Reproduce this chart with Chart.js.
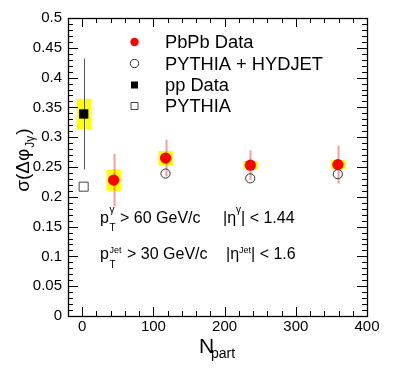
<!DOCTYPE html>
<html>
<head>
<script src="https://cdn.jsdelivr.net/npm/chart.js@4.4.0/dist/chart.umd.min.js"></script>
<style>
  body { margin: 0; background: #fff; }
  #wrap { width: 399px; height: 371px; }
</style>
</head>
<body>
<div id="wrap"><canvas id="myChart" width="399" height="371"></canvas></div>
<script>
// PbPb centrality bins
const npart = [44, 117, 236, 359];
const pbpbData = [0.228, 0.265, 0.253, 0.254];
const pbpbStat = [0.044, 0.031, 0.025, 0.032];
const pbpbSys = [0.018, 0.012, 0.007, 0.0075];
const pythiaHydjet = [0.228, 0.239, 0.231, 0.238];
// pp reference
const ppNpart = [2];
const ppData = [0.339];
const ppStat = [0.093];
const ppSys = [0.0255];
const pythiaPP = [0.217];
// axis labels
const xTicks = [0, 100, 200, 300, 400];
const yTicks = [0, 0.05, 0.1, 0.15, 0.2, 0.25, 0.3, 0.35, 0.4, 0.45, 0.5];
const legendLabels = ['PbPb Data', 'PYTHIA + HYDJET', 'pp Data', 'PYTHIA'];

const FONT = '"Liberation Sans", Arial, Helvetica, sans-serif';
const sysHalf = 10; // half width of the yellow boxes, in Npart

function pts(xs, ys) { return xs.map((x, i) => ({x: x, y: ys[i]})); }

// yellow systematics boxes + stat error lines
const errorBars = {
  id: 'errorBars',
  beforeDatasetsDraw(chart) {
    const {ctx, scales: {x, y}} = chart;
    ctx.save();
    ctx.fillStyle = '#ffff00';
    const box = (xv, yv, s) => {
      const l = x.getPixelForValue(xv - sysHalf), r = x.getPixelForValue(xv + sysHalf);
      const t = y.getPixelForValue(yv + s), b = y.getPixelForValue(yv - s);
      ctx.fillRect(l, t, r - l, b - t);
    };
    npart.forEach((n, i) => box(n, pbpbData[i], pbpbSys[i]));
    ppNpart.forEach((n, i) => box(n, ppData[i], ppSys[i]));

    const line = (xv, yv, e) => {
      const px = Math.round(x.getPixelForValue(xv)) + 0.5;
      ctx.beginPath();
      ctx.moveTo(px, y.getPixelForValue(yv + e));
      ctx.lineTo(px, y.getPixelForValue(yv - e));
      ctx.stroke();
    };
    ctx.strokeStyle = 'rgba(240,80,80,0.55)';
    ctx.lineWidth = 2;
    npart.forEach((n, i) => line(n, pbpbData[i], pbpbStat[i]));
    ctx.strokeStyle = '#555';
    ctx.lineWidth = 1;
    ppNpart.forEach((n, i) => line(n, ppData[i], ppStat[i]));
    ctx.restore();
  }
};

// mixed text: [string, size, baseline shift]
function drawRich(ctx, x0, y0, parts) {
  let cx = x0;
  parts.forEach(p => {
    ctx.font = p[1] + 'px ' + FONT;
    ctx.fillText(p[0], cx, y0 + p[2]);
    cx += ctx.measureText(p[0]).width;
  });
}

// ROOT style frame with inward ticks on all four sides
const frame = {
  id: 'frame',
  afterDatasetsDraw(chart) {
    const {ctx, chartArea: a, scales: {x, y}} = chart;
    ctx.save();
    ctx.strokeStyle = '#000';
    ctx.lineWidth = 1;
    ctx.beginPath();
    for (let v = -20; v <= 400; v += 20) {
      const px = Math.round(x.getPixelForValue(v)) + 0.5;
      const len = v % 100 === 0 ? 9 : 5;
      ctx.moveTo(px, a.bottom); ctx.lineTo(px, a.bottom - len);
      ctx.moveTo(px, a.top); ctx.lineTo(px, a.top + len);
    }
    for (let k = 0; k <= 50; k++) {
      const py = Math.round(y.getPixelForValue(k / 100)) + 0.5;
      const len = k % 5 === 0 ? 10 : 5;
      ctx.moveTo(a.left, py); ctx.lineTo(a.left + len, py);
      ctx.moveTo(a.right, py); ctx.lineTo(a.right - len, py);
    }
    ctx.stroke();
    ctx.lineWidth = 1.3;
    ctx.strokeRect(Math.round(a.left) + 0.5, Math.round(a.top) + 0.5,
      Math.round(a.right - a.left), Math.round(a.bottom - a.top));
    ctx.restore();
  },
  afterDraw(chart) {
    const ctx = chart.ctx;
    ctx.save();
    ctx.fillStyle = '#000';
    ctx.textBaseline = 'alphabetic';
    // x title
    ctx.font = '21px ' + FONT;
    ctx.fillText('N', 199, 353);
    ctx.font = '14px ' + FONT;
    ctx.fillText('part', 211, 358);
    // y title, rotated
    ctx.translate(29, 160);
    ctx.rotate(-Math.PI / 2);
    const big = '19px ' + FONT, small = '12px ' + FONT;
    const parts = [['σ(Δφ', big, 0], ['Jγ', small, 5], [')', big, 0]];
    let w = 0;
    parts.forEach(p => { ctx.font = p[1]; w += ctx.measureText(p[0]).width + (p[1] === small ? 2 : 0); });
    let cx = -w / 2;
    parts.forEach(p => {
      ctx.font = p[1];
      ctx.fillText(p[0], cx + (p[1] === small ? 1 : 0), p[2]);
      cx += ctx.measureText(p[0]).width + (p[1] === small ? 2 : 0);
    });
    ctx.restore();

    // cut annotations
    ctx.save();
    ctx.fillStyle = '#000';
    drawRich(ctx, 100, 222.5, [['p', 16, 0]]);
    drawRich(ctx, 109.5, 222.5, [['T', 10, 8.5]]);
    drawRich(ctx, 109.5, 222.5, [['γ', 10, -9.5]]);
    drawRich(ctx, 120, 222.5, [['> 60 GeV/c', 16, 0]]);
    drawRich(ctx, 223, 222.5, [['|η', 16, 0], ['γ', 10, -9.5], ['| < 1.44', 16, 0]]);
    drawRich(ctx, 100, 259, [['p', 16, 0]]);
    drawRich(ctx, 109.5, 259, [['T', 10, 8.5]]);
    drawRich(ctx, 109.5, 259, [['Jet', 9, -6.5]]);
    drawRich(ctx, 127, 259, [['> 30 GeV/c', 16, 0]]);
    drawRich(ctx, 226, 259, [['|η', 16, 0], ['Jet', 9, -6.5], ['| < 1.6', 16, 0]]);

    // legend
    const ds = chart.data.datasets;
    const rows = [42, 63.5, 85, 106];
    ctx.textBaseline = 'middle';
    ctx.font = '18.3px ' + FONT;
    ds.forEach((d, i) => {
      const mx = 134.5, my = rows[i];
      ctx.beginPath();
      if (d.pointStyle === 'circle') ctx.arc(mx, my, 4.2, 0, Math.PI * 2);
      else ctx.rect(mx - 3.5, my - 3.5, 7, 7);
      if (d.backgroundColor !== 'transparent') { ctx.fillStyle = d.backgroundColor; ctx.fill(); }
      if (d.borderWidth) { ctx.strokeStyle = d.borderColor; ctx.lineWidth = 1; ctx.stroke(); }
      ctx.fillStyle = '#000';
      ctx.fillText(legendLabels[i], 165, my + 1);
    });
    ctx.restore();
  }
};

const ctx = document.getElementById('myChart');
const myChart = new Chart(ctx, {
  type: 'scatter',
  data: {
    datasets: [
      { label: legendLabels[0], data: pts(npart, pbpbData), pointStyle: 'circle', pointRadius: 5.6,
        backgroundColor: '#ff0000', borderColor: '#ff0000', borderWidth: 0 },
      { label: legendLabels[1], data: pts(npart, pythiaHydjet), pointStyle: 'circle', pointRadius: 4.6,
        backgroundColor: 'transparent', borderColor: '#333', borderWidth: 1 },
      { label: legendLabels[2], data: pts(ppNpart, ppData), pointStyle: 'rect', pointRadius: 6.6,
        backgroundColor: '#000', borderColor: '#000', borderWidth: 0 },
      { label: legendLabels[3], data: pts(ppNpart, pythiaPP), pointStyle: 'rect', pointRadius: 6.4,
        backgroundColor: 'transparent', borderColor: '#444', borderWidth: 1 }
    ]
  },
  options: {
    responsive: false,
    animation: false,
    events: [],
    layout: { padding: { left: 0, right: 32, top: 18, bottom: 0 } },
    plugins: { legend: { display: false }, tooltip: { enabled: false } },
    scales: {
      x: {
        type: 'linear', min: -20, max: 400,
        afterBuildTicks: s => { s.ticks = xTicks.map(v => ({value: v})); },
        afterFit: s => { s.height = 55; },
        grid: { display: false, drawTicks: false },
        border: { display: false },
        ticks: { color: '#000', font: { family: FONT, size: 15 }, padding: 2,
                 maxRotation: 0, autoSkip: false, callback: v => String(v) }
      },
      y: {
        type: 'linear', min: 0, max: 0.5,
        afterBuildTicks: s => { s.ticks = yTicks.map(v => ({value: v})); },
        afterFit: s => { s.width = 68; },
        grid: { display: false, drawTicks: false },
        border: { display: false },
        ticks: { color: '#000', font: { family: FONT, size: 15 }, padding: 6,
                 autoSkip: false, callback: v => String(v) }
      }
    }
  },
  plugins: [errorBars, frame]
});
</script>
</body>
</html>
